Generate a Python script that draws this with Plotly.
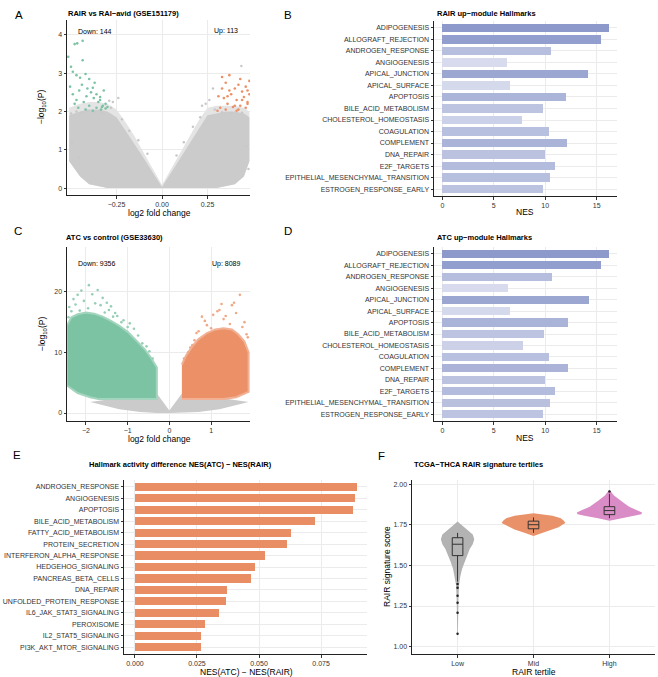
import numpy as np
import plotly.graph_objects as go

W, H = 658, 677
FONT = "Liberation Sans, Arial, Helvetica, sans-serif"

# ------------------------------------------------------------------ data
hallmarks_up = ["ADIPOGENESIS", "ALLOGRAFT_REJECTION", "ANDROGEN_RESPONSE", "ANGIOGENESIS",
                "APICAL_JUNCTION", "APICAL_SURFACE", "APOPTOSIS", "BILE_ACID_METABOLISM",
                "CHOLESTEROL_HOMEOSTASIS", "COAGULATION", "COMPLEMENT", "DNA_REPAIR",
                "E2F_TARGETS", "EPITHELIAL_MESENCHYMAL_TRANSITION", "ESTROGEN_RESPONSE_EARLY"]
nes_rair = [16.17, 15.42, 10.53, 6.26, 14.18, 6.55, 12.06, 9.75, 7.79, 10.34, 12.16, 9.94, 10.96, 10.43, 9.81]
nes_atc = [16.2, 15.45, 10.65, 6.35, 14.22, 6.6, 12.2, 9.85, 7.85, 10.38, 12.18, 10.0, 10.96, 10.45, 9.82]

diff_names = ["ANDROGEN_RESPONSE", "ANGIOGENESIS", "APOPTOSIS", "BILE_ACID_METABOLISM",
              "FATTY_ACID_METABOLISM", "PROTEIN_SECRETION", "INTERFERON_ALPHA_RESPONSE",
              "HEDGEHOG_SIGNALING", "PANCREAS_BETA_CELLS", "DNA_REPAIR",
              "UNFOLDED_PROTEIN_RESPONSE", "IL6_JAK_STAT3_SIGNALING", "PEROXISOME",
              "IL2_STAT5_SIGNALING", "PI3K_AKT_MTOR_SIGNALING"]
diff_vals = [0.0895, 0.0887, 0.0879, 0.0726, 0.0628, 0.0614, 0.0524, 0.0484, 0.0467,
             0.0370, 0.0367, 0.0340, 0.0282, 0.0267, 0.0265]

# Panel A volcano (RAIR vs RAI-avid): gray cloud envelope + significant points
grA_x_up = [-0.51, -0.45, -0.40, -0.35, -0.30, -0.25, -0.20, -0.15, -0.10, -0.05, 0.0,
            0.05, 0.10, 0.15, 0.20, 0.25, 0.30, 0.35, 0.40, 0.45, 0.48]
grA_y_up = [1.9, 2.0, 2.05, 2.05, 2.0, 1.85, 1.5, 1.15, 0.78, 0.4, 0.03,
            0.4, 0.78, 1.15, 1.55, 1.9, 1.95, 2.0, 2.0, 1.95, 1.85]
grA_x_lo = [-0.51, -0.45, -0.40, -0.30, 0.0, 0.30, 0.40, 0.45, 0.48]
grA_y_lo = [0.7, 0.3, 0.1, 0.0, 0.0, 0.0, 0.1, 0.3, 0.7]
haloA_y_up = [2.1, 2.2, 2.25, 2.25, 2.2, 2.05, 1.72, 1.35, 0.92, 0.5, 0.08,
              0.5, 0.92, 1.35, 1.75, 2.1, 2.15, 2.15, 2.15, 2.1, 2.0]
downA_x = [-0.515, -0.48, -0.466, -0.436, -0.436, -0.50, -0.49, -0.47, -0.45, -0.42, -0.40, -0.38,
           -0.36, -0.34, -0.32, -0.31, -0.505, -0.49, -0.47, -0.455, -0.44, -0.43, -0.415, -0.40,
           -0.39, -0.375, -0.36, -0.35, -0.335, -0.325, -0.31, -0.30, -0.46, -0.42, -0.38, -0.34,
           -0.48, -0.41, -0.37, -0.33]
downA_y = [3.43, 3.76, 3.78, 3.85, 3.34, 3.17, 3.04, 2.95, 2.88, 2.98, 2.85, 2.62,
           2.45, 2.30, 2.55, 2.20, 2.65, 2.45, 2.30, 2.55, 2.70, 2.25, 2.40, 2.15,
           2.50, 2.35, 2.10, 2.25, 2.05, 2.15, 2.08, 2.12, 2.10, 2.05, 2.02, 2.38,
           2.20, 2.60, 2.75, 2.12]
upA_x = [0.33, 0.35, 0.37, 0.40, 0.42, 0.44, 0.46, 0.48, 0.31, 0.34, 0.36, 0.38, 0.41, 0.43,
         0.45, 0.47, 0.48, 0.32, 0.35, 0.39, 0.42, 0.44, 0.46, 0.47, 0.305, 0.33, 0.37, 0.40,
         0.43, 0.47, 0.36, 0.41]
upA_y = [2.90, 2.75, 2.55, 2.60, 2.70, 2.52, 2.65, 2.80, 2.40, 2.35, 2.20, 2.45, 2.30, 2.15,
         2.38, 2.25, 2.45, 2.10, 2.05, 2.12, 2.05, 2.30, 2.10, 2.20, 2.02, 2.60, 2.95, 2.15,
         2.85, 2.55, 2.40, 2.02]
nsA_x = [-0.24, -0.29, 0.28, 0.436, 0.26, -0.27, 0.22, -0.5, -0.47, -0.44, -0.41, -0.37, -0.33,
         -0.28, -0.22, -0.18, -0.13, -0.08, 0.08, 0.12, 0.17, 0.21, 0.24, 0.29, 0.33, 0.38, 0.44,
         -0.495, -0.455, 0.465, 0.475]
nsA_y = [2.35, 2.28, 2.6, 3.19, 2.3, 2.25, 2.15, 1.95, 2.0, 1.98, 2.02, 1.99, 1.97,
         2.1, 1.8, 1.5, 1.25, 0.9, 0.85, 1.2, 1.6, 1.85, 2.2, 2.05, 1.98, 1.96, 1.97,
         1.2, 0.8, 1.1, 0.5]

# Panel C volcano (ATC vs control)
grC_x_up = [-1.9, -1.4, -0.3, -0.3, 0.0, 0.3, 0.3, 1.4, 1.9]
grC_y_up = [1.8, 2.3, 2.3, 3.2, 0.4, 3.2, 2.3, 2.3, 1.8]
grC_x_lo = [-1.9, -1.2, -0.7, -0.3, 0.0, 0.3, 0.7, 1.2, 1.9]
grC_y_lo = [1.8, 0.6, 0.15, 0.02, 0.0, 0.02, 0.15, 0.6, 1.8]
dnC_x_up = [-2.45, -2.35, -2.2, -2.0, -1.8, -1.6, -1.4, -1.2, -1.0, -0.8, -0.6, -0.45, -0.3]
dnC_y_up = [14.5, 15.8, 16.3, 16.6, 16.4, 15.9, 15.2, 14.4, 13.4, 12.0, 10.6, 9.2, 7.5]
dnC_x_lo = [-2.45, -2.2, -1.9, -1.7, -0.3]
dnC_y_lo = [4.5, 3.3, 2.6, 2.3, 2.3]
upC_x_up = [0.3, 0.4, 0.55, 0.7, 0.9, 1.1, 1.3, 1.5, 1.65, 1.8, 1.9]
upC_y_up = [8.0, 9.5, 11.0, 12.2, 13.2, 13.8, 14.0, 13.8, 13.0, 11.8, 10.0]
upC_x_lo = [0.3, 1.3, 1.6, 1.9]
upC_y_lo = [2.3, 2.3, 2.6, 3.5]
dnC_sx = [-2.40, -2.30, -2.20, -2.11, -1.93, -1.72, -1.60, -1.50, -1.40, -1.30, -2.35, -2.25, -2.05,
          -1.85, -1.65, -1.45, -1.25, -1.10, -0.95, -0.85, -0.75, -0.65, -2.42, -2.15, -1.95, -1.78,
          -1.55, -1.35, -1.15, -1.00, -0.55, -0.48, -0.40]
dnC_sy = [17.5, 18.8, 19.5, 20.2, 21.1, 20.3, 19.0, 18.2, 17.6, 16.5, 16.8, 17.9, 18.5,
          19.6, 17.8, 17.0, 16.0, 15.3, 14.8, 13.9, 12.8, 11.5, 15.8, 16.9, 17.3, 18.1,
          16.6, 15.9, 15.0, 14.2, 11.0, 10.2, 9.0]
upC_sx = [0.45, 0.60, 0.70, 0.78, 0.90, 1.05, 1.20, 1.35, 1.50, 1.60, 1.69, 1.80, 1.88, 0.55,
          0.85, 1.00, 1.15, 1.30, 1.45, 1.55, 1.75, 1.85, 0.65, 1.25, 0.35, 0.5]
upC_sy = [10.0, 12.0, 13.5, 15.9, 14.5, 16.2, 17.0, 16.0, 17.8, 16.5, 19.5, 15.0, 12.5, 11.2,
          15.2, 14.0, 16.8, 15.5, 14.7, 18.2, 14.2, 13.0, 13.2, 18.0, 9.0, 10.8]

# Panel F violins (score, half-width in category units) and box stats
tertiles = ["Low", "Mid", "High"]
vio_low_s = [1.07, 1.20, 1.30, 1.38, 1.43, 1.48, 1.52, 1.56, 1.60, 1.63, 1.66, 1.69, 1.72, 1.745, 1.77]
vio_low_w = [0.004, 0.006, 0.012, 0.02, 0.035, 0.06, 0.09, 0.12, 0.16, 0.2, 0.22, 0.2, 0.13, 0.06, 0.0]
vio_mid_s = [1.68, 1.70, 1.72, 1.735, 1.75, 1.76, 1.775, 1.79, 1.805, 1.815, 1.82]
vio_mid_w = [0.0, 0.12, 0.25, 0.33, 0.38, 0.42, 0.40, 0.36, 0.25, 0.10, 0.0]
vio_high_s = [1.775, 1.79, 1.805, 1.815, 1.825, 1.84, 1.86, 1.88, 1.90, 1.93, 1.965]
vio_high_w = [0.0, 0.15, 0.33, 0.42, 0.43, 0.36, 0.26, 0.2, 0.14, 0.06, 0.0]
box_q1 = [1.56, 1.725, 1.812]
box_med = [1.63, 1.75, 1.837]
box_q3 = [1.67, 1.772, 1.861]
box_lo = [1.40, 1.70, 1.79]
box_hi = [1.70, 1.795, 1.94]
out_x = [1, 1, 1, 1, 1, 1, 3]
out_y = [1.386, 1.362, 1.313, 1.27, 1.209, 1.08, 1.955]

# ------------------------------------------------------------------ helpers
def dx(a, b):
    return [a / W, b / W]

def dy(top, bottom):
    return [1 - bottom / H, 1 - top / H]

GRID = "#EBEBEB"
TICKF = dict(family=FONT, size=7, color="#333333")

def axis(domain, rng, anchor, **kw):
    d = dict(domain=domain, range=rng, anchor=anchor, showline=True, linecolor="#222222",
             linewidth=1, ticks="outside", ticklen=2.5, tickcolor="#333333", tickwidth=1,
             showgrid=True, gridcolor=GRID, gridwidth=0.7, zeroline=False, tickfont=TICKF)
    d.update(kw)
    return d

def poly(xu, yu, xl, yl):
    return list(xu) + list(xl)[::-1], list(yu) + list(yl)[::-1]

GREEN = "#7CC3A4"
ORANGE = "#EC9068"
GRAY = "#CBCBCB"

fig = go.Figure()

# ---------------- Panel A
px_, py_ = poly(grA_x_up, haloA_y_up, grA_x_lo, grA_y_lo)
fig.add_trace(go.Scatter(x=px_, y=py_, fill="toself", mode="lines", line=dict(width=0),
                         fillcolor="#E4E4E4", xaxis="x", yaxis="y", hoverinfo="skip"))
px_, py_ = poly(grA_x_up, grA_y_up, grA_x_lo, grA_y_lo)
fig.add_trace(go.Scatter(x=px_, y=py_, fill="toself", mode="lines", line=dict(width=0),
                         fillcolor=GRAY, xaxis="x", yaxis="y", hoverinfo="skip"))
fig.add_trace(go.Scatter(x=nsA_x, y=nsA_y, mode="markers", marker=dict(size=2.5, color="#C8C8C8"),
                         xaxis="x", yaxis="y"))
fig.add_trace(go.Scatter(x=downA_x, y=downA_y, mode="markers", marker=dict(size=2.6, color=GREEN),
                         xaxis="x", yaxis="y"))
fig.add_trace(go.Scatter(x=upA_x, y=upA_y, mode="markers", marker=dict(size=2.6, color=ORANGE),
                         xaxis="x", yaxis="y"))

# ---------------- Panel C
px_, py_ = poly(grC_x_up, grC_y_up, grC_x_lo, grC_y_lo)
fig.add_trace(go.Scatter(x=px_, y=py_, fill="toself", mode="lines", line=dict(width=0),
                         fillcolor=GRAY, xaxis="x3", yaxis="y3", hoverinfo="skip"))
px_, py_ = poly(dnC_x_up, dnC_y_up, dnC_x_lo, dnC_y_lo)
fig.add_trace(go.Scatter(x=px_, y=py_, fill="toself", mode="lines", line=dict(width=2, color="#A3D5BE"),
                         fillcolor=GREEN, xaxis="x3", yaxis="y3", hoverinfo="skip"))
px_, py_ = poly(upC_x_up, upC_y_up, upC_x_lo, upC_y_lo)
fig.add_trace(go.Scatter(x=px_, y=py_, fill="toself", mode="lines", line=dict(width=2, color="#F2B194"),
                         fillcolor=ORANGE, xaxis="x3", yaxis="y3", hoverinfo="skip"))
fig.add_trace(go.Scatter(x=dnC_sx, y=dnC_sy, mode="markers", marker=dict(size=2.6, color="#96CFB5"),
                         xaxis="x3", yaxis="y3"))
fig.add_trace(go.Scatter(x=upC_sx, y=upC_sy, mode="markers", marker=dict(size=2.6, color="#F0A987"),
                         xaxis="x3", yaxis="y3"))

# ---------------- Panels B and D
cscale = [[0, "#D7DBED"], [1, "#8C99CA"]]
for vals, xa, ya in [(nes_rair, "x2", "y2"), (nes_atc, "x4", "y4")]:
    fig.add_trace(go.Bar(x=vals, y=hallmarks_up, orientation="h", width=0.72,
                         marker=dict(color=vals, colorscale=cscale, cmin=min(vals), cmax=max(vals),
                                     line=dict(width=0)),
                         xaxis=xa, yaxis=ya))

# ---------------- Panel E
fig.add_trace(go.Bar(x=diff_vals, y=diff_names, orientation="h", width=0.72,
                     marker=dict(color="#E98D65", line=dict(width=0)), xaxis="x5", yaxis="y5"))

# ---------------- Panel F
vio = [(1, vio_low_s, vio_low_w, "#B3B3B3"), (2, vio_mid_s, vio_mid_w, "#E9926A"),
       (3, vio_high_s, vio_high_w, "#DA8CC6")]
for c, s, w, col in vio:
    s = np.array(s); w = np.array(w)
    xs = np.concatenate([c + w, (c - w)[::-1]])
    ys = np.concatenate([s, s[::-1]])
    fig.add_trace(go.Scatter(x=xs, y=ys, fill="toself", mode="lines", line=dict(width=0),
                             fillcolor=col, xaxis="x6", yaxis="y6", hoverinfo="skip"))
# boxplots built from the summary statistics (drawn as lines so they sit above the violins)
hw = 0.07
bx, by = [], []
for i, c in enumerate([1, 2, 3]):
    q1, md, q3, lo, hi = box_q1[i], box_med[i], box_q3[i], box_lo[i], box_hi[i]
    bx += [c - hw, c + hw, c + hw, c - hw, c - hw, None]
    by += [q1, q1, q3, q3, q1, None]
    bx += [c - hw, c + hw, None, c, c, None, c, c, None]
    by += [md, md, None, q3, hi, None, q1, lo, None]
fig.add_trace(go.Scatter(x=bx, y=by, mode="lines", line=dict(color="#333333", width=1),
                         xaxis="x6", yaxis="y6", hoverinfo="skip"))
fig.add_trace(go.Scatter(x=out_x, y=out_y, mode="markers", marker=dict(size=2.5, color="#222222"),
                         xaxis="x6", yaxis="y6"))

n = len(hallmarks_up)
cat_rng = [n - 0.4, -0.6]
layout = dict(
    width=W, height=H, margin=dict(l=0, r=0, t=0, b=0), showlegend=False,
    paper_bgcolor="white", plot_bgcolor="white", font=dict(family=FONT, color="#000"),
    bargap=0,
    xaxis=axis(dx(67, 250), [-0.522, 0.4835], "y", tickvals=[-0.25, 0, 0.25],
               ticktext=["−0.25", "0.00", "0.25"]),
    yaxis=axis(dy(20, 195), [-0.18, 4.39], "x", tickvals=[0, 1, 2, 3, 4]),
    xaxis2=axis(dx(434, 617), [-0.81, 16.98], "y2", tickvals=[0, 5, 10, 15]),
    yaxis2=axis(dy(21, 196), cat_rng, "x2", type="category", categoryorder="array",
                categoryarray=hallmarks_up),
    xaxis3=axis(dx(67, 250), [-2.455, 1.933], "y3", tickvals=[-2, -1, 0, 1],
                ticktext=["−2", "−1", "0", "1"]),
    yaxis3=axis(dy(247, 421), [-1.32, 27.4], "x3", tickvals=[0, 10, 20]),
    xaxis4=axis(dx(434, 617), [-0.81, 16.98], "y4", tickvals=[0, 5, 10, 15]),
    yaxis4=axis(dy(247, 421), cat_rng, "x4", type="category", categoryorder="array",
                categoryarray=hallmarks_up),
    xaxis5=axis(dx(124, 367), [-0.0044, 0.0935], "y5", tickvals=[0, 0.025, 0.05, 0.075],
                ticktext=["0.000", "0.025", "0.050", "0.075"]),
    yaxis5=axis(dy(480, 654), [len(diff_names) - 0.4, -0.6], "x5", type="category",
                categoryorder="array", categoryarray=diff_names),
    xaxis6=axis(dx(412, 655), [0.4, 3.6], "y6", tickvals=[1, 2, 3], ticktext=tertiles),
    yaxis6=axis(dy(480, 654), [0.955, 2.025], "x6", tickvals=[1.0, 1.25, 1.5, 1.75, 2.0],
                ticktext=["1.00", "1.25", "1.50", "1.75", "2.00"]),
)

ann = []
def txt(x, y, s, size, bold=False, xanchor="left", angle=0, color="#000"):
    ann.append(dict(x=x / W, y=1 - y / H, xref="paper", yref="paper",
                    text=("<b>%s</b>" % s) if bold else s,
                    showarrow=False, xanchor=xanchor, yanchor="middle", textangle=angle,
                    font=dict(family=FONT, size=size, color=color)))

# panel letters
for L, x, y in [("A", 13, 15), ("B", 282, 15), ("C", 12, 231), ("D", 282, 231), ("E", 11, 455), ("F", 376, 456)]:
    txt(x, y, L, 11.5)
# titles
txt(66, 13, "RAIR vs RAI−avid (GSE151179)", 7.5, bold=True)
txt(435, 13, "RAIR up−module Hallmarks", 7.5, bold=True)
txt(64, 238, "ATC vs control (GSE33630)", 7.5, bold=True)
txt(435, 238, "ATC up−module Hallmarks", 7.5, bold=True)
txt(180, 464, "Hallmark activity difference NES(ATC) − NES(RAIR)", 7.5, bold=True, xanchor="center")
txt(412, 464, "TCGA−THCA RAIR signature tertiles", 7.5, bold=True)
# axis titles
txt(159, 213, "log2 fold change", 8.5, xanchor="center")
txt(159, 439, "log2 fold change", 8.5, xanchor="center")
txt(42, 107, "−log<sub>10</sub>(P)", 8.5, xanchor="center", angle=-90)
txt(42, 334, "−log<sub>10</sub>(P)", 8.5, xanchor="center", angle=-90)
txt(525, 212, "NES", 8.5, xanchor="center")
txt(525, 438, "NES", 8.5, xanchor="center")
txt(246, 672, "NES(ATC) − NES(RAIR)", 8.5, xanchor="center")
txt(534, 672, "RAIR tertile", 8.5, xanchor="center")
txt(387, 567, "RAIR signature score", 8.5, xanchor="center", angle=-90)
# volcano count labels (data coordinates)
for x, y, xr, yr, s, anc in [(-0.475, 4.1, "x", "y", "Down: 144", "left"),
                             (0.43, 4.1, "x", "y", "Up: 113", "right"),
                             (-2.24, 24.6, "x3", "y3", "Down: 9356", "left"),
                             (1.77, 24.6, "x3", "y3", "Up: 8089", "right")]:
    ann.append(dict(x=x, y=y, xref=xr, yref=yr, text=s, showarrow=False, xanchor=anc,
                    font=dict(family=FONT, size=7, color="#000")))

layout["annotations"] = ann
fig.update_layout(**layout)
fig.write_html("out.html")
